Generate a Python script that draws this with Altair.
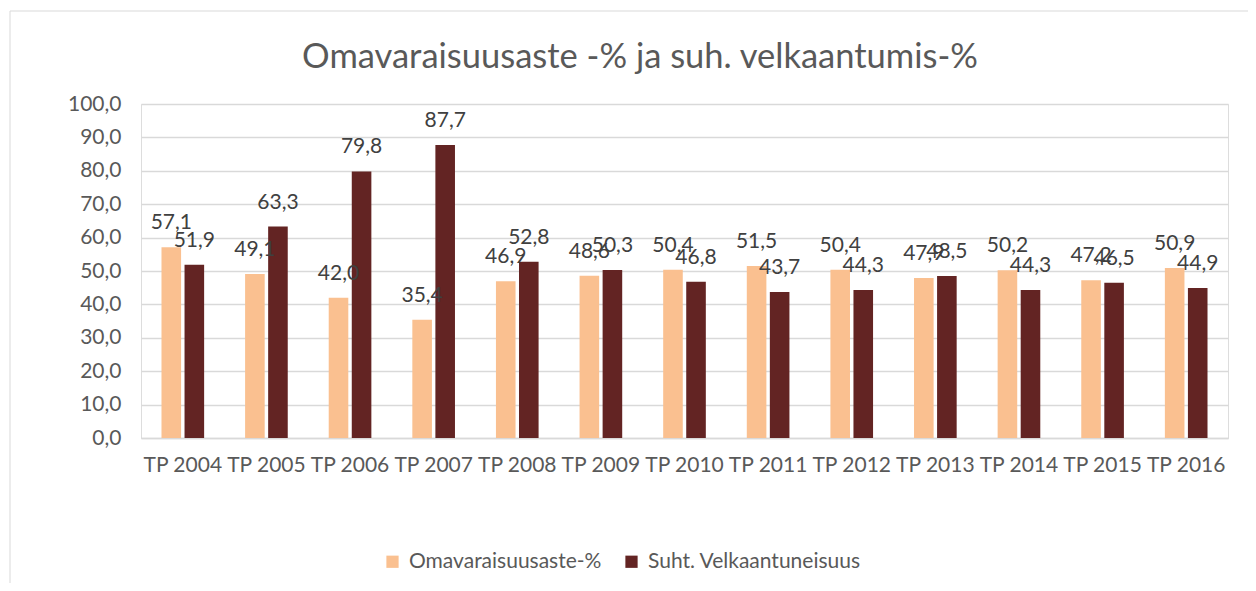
import altair as alt
import pandas as pd

categories = ["TP 2004", "TP 2005", "TP 2006", "TP 2007", "TP 2008", "TP 2009", "TP 2010",
              "TP 2011", "TP 2012", "TP 2013", "TP 2014", "TP 2015", "TP 2016"]
omavaraisuus = [57.1, 49.1, 42.0, 35.4, 46.9, 48.6, 50.4, 51.5, 50.4, 47.9, 50.2, 47.2, 50.9]
velkaantuneisuus = [51.9, 63.3, 79.8, 87.7, 52.8, 50.3, 46.8, 43.7, 44.3, 48.5, 44.3, 46.5, 44.9]
series_names = ["Omavaraisuusaste-%", "Suht. Velkaantuneisuus"]
colors = ["#FAC090", "#632423"]
y_ticks = [0, 10, 20, 30, 40, 50, 60, 70, 80, 90, 100]
title_text = "Omavaraisuusaste -% ja suh. velkaantumis-%"

rows = []
for c, a, b in zip(categories, omavaraisuus, velkaantuneisuus):
    rows.append({"cat": c, "series": series_names[0], "value": a})
    rows.append({"cat": c, "series": series_names[1], "value": b})
df = pd.DataFrame(rows)

W, H = 1087, 334
FONT = "Lato"

x_enc = alt.X("cat:N", sort=categories, title=None,
              scale=alt.Scale(paddingInner=0.49, paddingOuter=0.245),
              axis=alt.Axis(labelAngle=0, labelFontSize=21, labelColor="#595959", labelFont=FONT,
                            ticks=False, domainColor="#D9D9D9", domainWidth=1.5,
                            labelPadding=16, grid=False, labelOverlap=False, labelLimit=0))
xoff = alt.XOffset("series:N", sort=series_names, scale=alt.Scale(paddingInner=0.15))
y_enc = alt.Y("value:Q", title=None,
              scale=alt.Scale(domain=[0, 100], nice=False),
              axis=alt.Axis(values=y_ticks, tickCount=11, labelFontSize=21, labelColor="#595959",
                            labelFont=FONT, ticks=False, domain=False, gridColor="#D9D9D9",
                            gridWidth=1.5, labelPadding=20, labelOverlap=False,
                            labelExpr="replace(format(datum.value, '.1f'), '.', ',')"))

bars = alt.Chart(df).mark_bar().encode(
    x=x_enc, xOffset=xoff, y=y_enc,
    color=alt.Color("series:N", sort=series_names,
                    scale=alt.Scale(domain=series_names, range=colors),
                    legend=alt.Legend(title=None, orient="none", legendX=241, legendY=447,
                                      direction="horizontal", symbolType="square",
                                      symbolSize=150, symbolStrokeWidth=0,
                                      labelFontSize=21, labelColor="#595959", labelFont=FONT,
                                      columnPadding=19, labelOffset=6, labelLimit=0)),
)

labels = alt.Chart(df).transform_calculate(
    lbl="replace(format(datum.value, '.1f'), '.', ',')"
).mark_text(baseline="alphabetic", dy=-18, fontSize=21, color="#404040", font=FONT).encode(
    x=x_enc, xOffset=xoff, y=y_enc, text="lbl:N",
)

title = alt.Chart(pd.DataFrame({"t": [title_text]})).mark_text(
    fontSize=34.5, color="#595959", font=FONT, align="center", baseline="middle"
).encode(x=alt.value(499), y=alt.value(-46), text="t:N")

border_top = alt.Chart(pd.DataFrame({"a": [0]})).mark_rule(color="#D9D9D9", strokeWidth=1).encode(
    x=alt.value(-131), x2=alt.value(W + 40), y=alt.value(-93))
border_left = alt.Chart(pd.DataFrame({"a": [0]})).mark_rule(color="#D9D9D9", strokeWidth=1).encode(
    x=alt.value(-131), y=alt.value(-93), y2=alt.value(H + 160))

chart = alt.layer(border_top, border_left, bars, labels, title).properties(
    width=W, height=H,
    autosize=alt.AutoSizeParams(type="none"),
    padding={"left": 133, "top": 96, "right": 20, "bottom": 145},
).configure_view(stroke=None).configure(background="white")

chart.save("out.html", embed_options={"renderer": "svg", "actions": False})
